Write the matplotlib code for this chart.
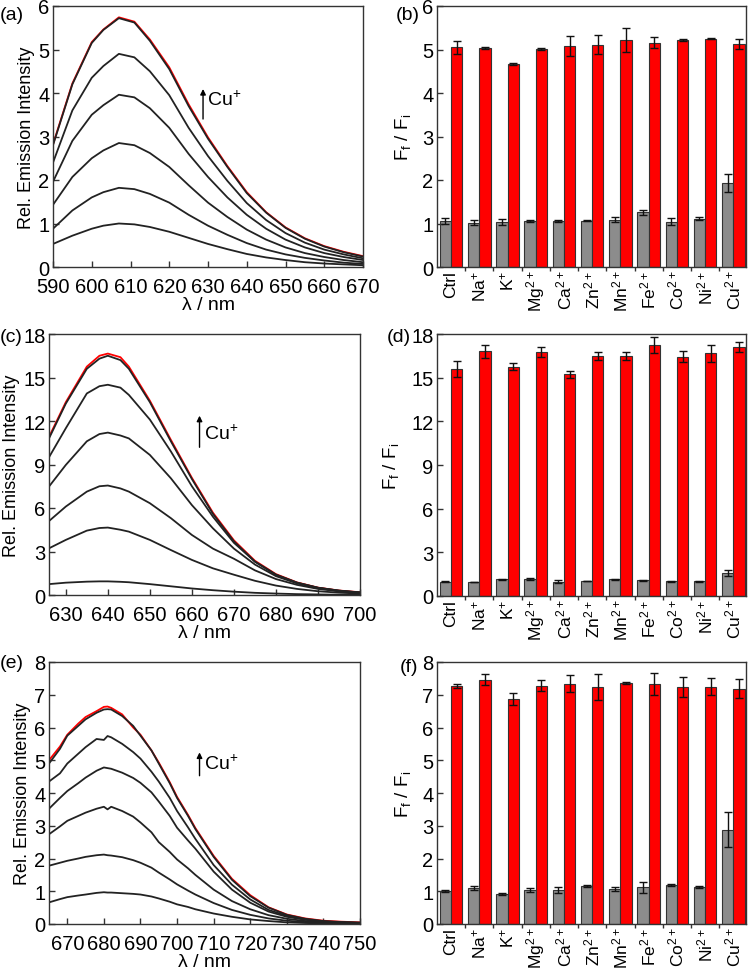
import matplotlib
matplotlib.use('Agg')
import matplotlib.pyplot as plt
from matplotlib.ticker import MultipleLocator

plt.rcParams['font.family'] = ['Liberation Sans', 'DejaVu Sans']
plt.rcParams['mathtext.fontset'] = 'custom'
plt.rcParams['mathtext.rm'] = 'Liberation Sans'
plt.rcParams['mathtext.it'] = 'Liberation Sans'
plt.rcParams['mathtext.default'] = 'regular'

# Cores
RED = "#ff0000"
GRAY = "#8c8c8c"
EDGE = "#333333"

# ---- espectros (a) ----
WL_A = [590, 595, 600, 603, 607, 611, 615, 620, 625, 630, 635, 640, 645, 650, 655, 660, 665, 670]
SPEC_A = [
    [0.53, 0.72, 0.88, 0.95, 1.00, 0.98, 0.92, 0.81, 0.67, 0.53, 0.41, 0.30, 0.22, 0.16, 0.11, 0.08, 0.06, 0.04],
    [0.88, 1.30, 1.60, 1.72, 1.82, 1.79, 1.68, 1.48, 1.20, 0.95, 0.74, 0.55, 0.40, 0.29, 0.21, 0.15, 0.10, 0.07],
    [1.43, 2.07, 2.50, 2.68, 2.85, 2.80, 2.62, 2.30, 1.88, 1.48, 1.15, 0.86, 0.63, 0.45, 0.32, 0.23, 0.16, 0.11],
    [1.96, 2.90, 3.50, 3.72, 3.96, 3.90, 3.65, 3.20, 2.60, 2.07, 1.60, 1.20, 0.88, 0.63, 0.45, 0.32, 0.23, 0.16],
    [2.40, 3.60, 4.35, 4.62, 4.90, 4.82, 4.50, 3.95, 3.20, 2.55, 1.98, 1.47, 1.08, 0.78, 0.56, 0.40, 0.29, 0.20],
    [2.80, 4.20, 5.15, 5.45, 5.72, 5.62, 5.20, 4.55, 3.70, 2.95, 2.30, 1.70, 1.25, 0.90, 0.65, 0.47, 0.34, 0.24],
]
RED_A = [2.82, 4.22, 5.17, 5.46, 5.74, 5.64, 5.23, 4.59, 3.74, 2.98, 2.32, 1.72, 1.26, 0.91, 0.66, 0.48, 0.35, 0.25]

# ---- espectros (c) ----
WL_C = [626, 630, 635, 638, 640, 643, 645, 650, 655, 660, 665, 670, 675, 680, 685, 690, 695, 700]
SPEC_C = [
    [0.75, 0.85, 0.92, 0.94, 0.94, 0.91, 0.88, 0.75, 0.60, 0.45, 0.33, 0.23, 0.15, 0.10, 0.06, 0.04, 0.02, 0.01],
    [3.22, 3.80, 4.44, 4.62, 4.65, 4.50, 4.37, 3.80, 3.10, 2.42, 1.84, 1.40, 0.98, 0.65, 0.42, 0.26, 0.16, 0.10],
    [5.10, 6.10, 7.13, 7.50, 7.55, 7.35, 7.13, 6.33, 5.30, 4.14, 3.20, 2.50, 1.70, 1.10, 0.70, 0.42, 0.25, 0.15],
    [7.48, 8.97, 10.6, 11.1, 11.2, 11.0, 10.8, 9.66, 8.05, 6.20, 4.60, 3.20, 2.10, 1.30, 0.80, 0.48, 0.28, 0.16],
    [9.50, 11.5, 13.9, 14.4, 14.5, 14.3, 13.8, 12.1, 9.90, 7.50, 5.40, 3.60, 2.30, 1.40, 0.85, 0.50, 0.30, 0.17],
    [10.8, 13.2, 15.6, 16.3, 16.5, 16.2, 15.6, 13.3, 10.6, 8.00, 5.60, 3.70, 2.30, 1.40, 0.85, 0.50, 0.30, 0.18],
]
RED_C = [10.9, 13.3, 15.75, 16.5, 16.65, 16.4, 15.75, 13.4, 10.7, 8.08, 5.68, 3.77, 2.36, 1.44, 0.87, 0.51, 0.31, 0.19]

# ---- espectros (e) ----
WL_E = [665, 668, 670, 673, 675, 678, 680, 681, 682, 685, 688, 690, 693, 695, 698, 700, 703, 705,
        710, 715, 720, 725, 730, 735, 740, 745, 750]
SPEC_E = [
    [0.66, 0.76, 0.82, 0.87, 0.90, 0.95, 0.97, 0.96, 0.96, 0.94, 0.92, 0.90, 0.84, 0.78, 0.68, 0.60, 0.52, 0.45,
     0.32, 0.22, 0.14, 0.09, 0.05, 0.03, 0.02, 0.01, 0.01],
    [1.78, 1.87, 1.93, 2.00, 2.05, 2.10, 2.12, 2.10, 2.09, 2.04, 1.95, 1.87, 1.72, 1.57, 1.36, 1.21, 1.02, 0.90,
     0.64, 0.43, 0.28, 0.17, 0.10, 0.06, 0.04, 0.03, 0.02],
    [2.74, 2.98, 3.15, 3.30, 3.40, 3.52, 3.58, 3.50, 3.58, 3.45, 3.28, 3.10, 2.80, 2.50, 2.20, 1.97, 1.70, 1.50,
     1.05, 0.70, 0.45, 0.27, 0.16, 0.09, 0.05, 0.03, 0.03],
    [3.52, 3.85, 4.06, 4.30, 4.47, 4.68, 4.78, 4.76, 4.74, 4.62, 4.46, 4.31, 4.02, 3.74, 3.30, 2.94, 2.55, 2.30,
     1.60, 1.05, 0.65, 0.38, 0.22, 0.13, 0.07, 0.05, 0.03],
    [4.35, 4.60, 4.90, 5.20, 5.40, 5.65, 5.62, 5.74, 5.70, 5.50, 5.25, 5.05, 4.65, 4.35, 3.85, 3.45, 2.95, 2.60,
     1.80, 1.20, 0.75, 0.43, 0.25, 0.14, 0.08, 0.05, 0.04],
    [4.90, 5.35, 5.75, 6.05, 6.25, 6.45, 6.55, 6.56, 6.55, 6.35, 6.05, 5.75, 5.30, 4.90, 4.30, 3.85, 3.30, 2.90,
     2.05, 1.35, 0.85, 0.50, 0.28, 0.16, 0.09, 0.06, 0.04],
]
RED_E = [5.00, 5.42, 5.78, 6.12, 6.32, 6.50, 6.63, 6.64, 6.60, 6.40, 6.00, 5.78, 5.30, 4.93, 4.33, 3.88, 3.33, 2.93,
         2.08, 1.38, 0.88, 0.51, 0.29, 0.17, 0.10, 0.07, 0.05]

# ---- barras ----
IONS = ['Ctrl', 'Na$^{+}$', 'K$^{+}$', 'Mg$^{2+}$', 'Ca$^{2+}$', 'Zn$^{2+}$',
        'Mn$^{2+}$', 'Fe$^{2+}$', 'Co$^{2+}$', 'Ni$^{2+}$', 'Cu$^{2+}$']

GRAY_B = [1.05, 1.02, 1.03, 1.06, 1.06, 1.06, 1.09, 1.26, 1.04, 1.11, 1.93]
GRAY_B_ERR = [0.07, 0.05, 0.07, 0.02, 0.02, 0.01, 0.05, 0.06, 0.08, 0.03, 0.20]
RED_B = [5.05, 5.03, 4.66, 5.01, 5.08, 5.11, 5.22, 5.16, 5.21, 5.25, 5.12]
RED_B_ERR = [0.15, 0.02, 0.02, 0.03, 0.22, 0.22, 0.27, 0.13, 0.02, 0.01, 0.11]

GRAY_D = [0.99, 0.94, 1.15, 1.15, 0.99, 1.01, 1.15, 1.08, 1.01, 1.01, 1.60]
GRAY_D_ERR = [0.05, 0.01, 0.05, 0.08, 0.08, 0.01, 0.05, 0.05, 0.02, 0.02, 0.20]
RED_D = [15.6, 16.8, 15.76, 16.77, 15.23, 16.47, 16.49, 17.25, 16.45, 16.67, 17.13]
RED_D_ERR = [0.55, 0.45, 0.25, 0.32, 0.25, 0.27, 0.25, 0.55, 0.37, 0.60, 0.35]

GRAY_F = [1.00, 1.10, 0.91, 1.04, 1.04, 1.17, 1.08, 1.12, 1.19, 1.12, 2.88]
GRAY_F_ERR = [0.03, 0.05, 0.03, 0.07, 0.10, 0.03, 0.06, 0.16, 0.02, 0.03, 0.54]
RED_F = [7.27, 7.46, 6.87, 7.28, 7.33, 7.23, 7.37, 7.32, 7.24, 7.24, 7.19]
RED_F_ERR = [0.06, 0.17, 0.19, 0.16, 0.26, 0.40, 0.03, 0.33, 0.30, 0.26, 0.28]

FS = 14.5      # numeros dos eixos
FS_CAT = 12.5  # rotulos dos ions
FS_LAB = 13    # titulos dos eixos

W, H = 750, 970
fig = plt.figure(figsize=(W / 100, H / 100), dpi=100)


def style_axes(ax):
    for s in ax.spines.values():
        s.set_linewidth(1.0)
        s.set_color(EDGE)
    ax.tick_params(direction='in', labelsize=FS, length=4, width=1, color=EDGE,
                   top=False, right=False)
    ax.tick_params(axis='y', pad=2.5)


def letter(px, py, txt):
    fig.text(px / W, 1 - py / H, txt, fontsize=14, va='center', ha='left')


def spectra_panel(rect, wl, spec, red, xlim, ylim, ystep, arrow_y, text_y):
    ax = fig.add_axes(rect)
    ax.plot(wl, red, color=RED, lw=1.3)
    for s in spec:
        ax.plot(wl, s, color='#222222', lw=1.3)
    ax.set_xlim(*xlim)
    ax.set_ylim(*ylim)
    ax.xaxis.set_major_locator(MultipleLocator(10))
    ax.yaxis.set_major_locator(MultipleLocator(ystep))
    style_axes(ax)
    ax.tick_params(axis='x', pad=7.5)
    ax.set_xlabel('λ / nm', fontsize=14, labelpad=0)
    ax.set_ylabel('Rel. Emission Intensity', fontsize=FS_LAB, labelpad=2)
    # seta Cu+
    ax.annotate('', xy=(0.484, arrow_y[1]), xytext=(0.484, arrow_y[0]),
                xycoords='axes fraction',
                arrowprops=dict(arrowstyle='-|>', color='black', lw=1.0,
                                mutation_scale=8, shrinkA=0, shrinkB=0))
    ax.text(0.497, text_y, 'Cu$^{+}$', transform=ax.transAxes,
            fontsize=14, va='center', ha='left')
    return ax


def bar_panel(rect, gray, gray_err, red, red_err, ylim, ystep):
    ax = fig.add_axes(rect)
    x = list(range(len(IONS)))
    w = 0.4
    ekw = dict(ecolor='#111111', elinewidth=1.0, capsize=3, capthick=1.0)
    ax.bar([i - w / 2 for i in x], gray, width=w, color=GRAY, edgecolor=EDGE,
           linewidth=0.8, yerr=gray_err, error_kw=ekw)
    ax.bar([i + w / 2 for i in x], red, width=w, color=RED, edgecolor=EDGE,
           linewidth=0.8, yerr=red_err, error_kw=ekw)
    ax.set_xlim(-0.5, len(IONS) - 0.55)
    ax.set_ylim(*ylim)
    ax.yaxis.set_major_locator(MultipleLocator(ystep))
    ax.set_xticks(x)
    ax.set_xticklabels(IONS, rotation=90, fontsize=FS_CAT)
    ax.set_xticks([i + 0.5 for i in x[:-1]], minor=True)
    style_axes(ax)
    ax.tick_params(axis='x', which='major', length=0, pad=2, labelsize=FS_CAT)
    ax.tick_params(axis='x', which='minor', direction='out', length=3, width=1, color=EDGE)
    ax.set_ylabel('F$_{f}$ / F$_{i}$', fontsize=FS_LAB + 0.5, labelpad=7)
    return ax


spectra_panel([53 / W, 1 - 268 / H, 310 / W, 261 / H], WL_A, SPEC_A, RED_A,
              (590, 670), (0, 6), 1, (0.567, 0.682), 0.645)
spectra_panel([49 / W, 1 - 596 / H, 311 / W, 261 / H], WL_C, SPEC_C, RED_C,
              (626, 700), (0, 18), 3, (0.566, 0.687), 0.62)
spectra_panel([49 / W, 1 - 925 / H, 311 / W, 262 / H], WL_E, SPEC_E, RED_E,
              (665, 750), (0, 8), 1, (0.566, 0.655), 0.615)

bar_panel([437 / W, 1 - 268 / H, 309 / W, 261 / H], GRAY_B, GRAY_B_ERR, RED_B, RED_B_ERR, (0, 6), 1)
bar_panel([437 / W, 1 - 597 / H, 309 / W, 262 / H], GRAY_D, GRAY_D_ERR, RED_D, RED_D_ERR, (0, 18), 3)
bar_panel([437 / W, 1 - 925 / H, 309 / W, 262 / H], GRAY_F, GRAY_F_ERR, RED_F, RED_F_ERR, (0, 8), 1)

letter(0, 15, '(a)')
letter(396, 15, '(b)')
letter(0, 338, '(c)')
letter(387, 337, '(d)')
letter(0, 664, '(e)')
letter(400, 668, '(f)')

plt.savefig('out.png', dpi=100)
plt.close()
print("ok")
